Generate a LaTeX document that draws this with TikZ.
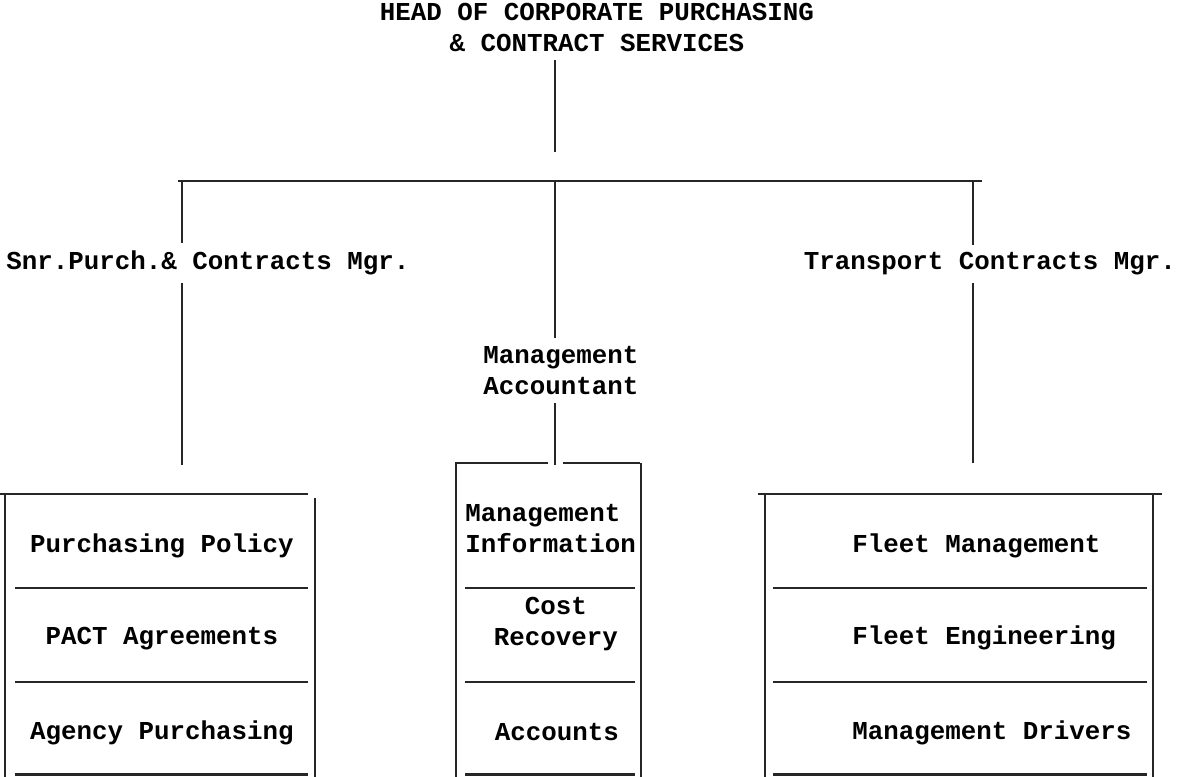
\documentclass[tikz,border=0pt]{standalone}
\usepackage{fontspec}
\setmonofont{Liberation Mono}
\tikzstyle{unit}=[font=\ttfamily\bfseries\fontsize{14.7}{18.2}\selectfont,inner sep=0pt]
\tikzstyle{post}=[unit,inner ysep=0.15cm]
\tikzstyle{rule}=[draw=black!85,line width=1.4pt]

\begin{document}
\begin{tikzpicture}
                  \useasboundingbox (0,0) rectangle (23.6,15.54);

                  \node (head) at (11.94,14.5) [unit,align=center,anchor=base] {HEAD OF CORPORATE PURCHASING\\\& CONTRACT SERVICES};

                  \node (snr) at (4.16,10.14) [post,anchor=base] {Snr.Purch.\& Contracts Mgr.};
                  \node (acct) at (11.22,7.64) [post,align=center,anchor=base] {Management\\Accountant};
                  \node (transport) at (19.8,10.14) [post,anchor=base] {Transport Contracts Mgr.};

                  \coordinate (stem) at (11.1,12.5);
                  \coordinate (jl) at (3.64,11.92);
                  \coordinate (jc) at (11.1,11.92);
                  \coordinate (jr) at (19.46,11.92);
                  \coordinate (lend) at (3.64,6.24);
                  \coordinate (cend) at (11.1,6.24);
                  \coordinate (rend) at (19.46,6.28);

                  \draw [rule] (stem |- 0,14.34) -- (stem);
                  \draw [rule] (3.56,11.92) -- (19.64,11.92);
                  \draw [rule] (jl) -- (jl |- snr.north);
                  \draw [rule] (jl |- snr.south) -- (lend);
                  \draw [rule] (jc) -- (jc |- acct.north);
                  \draw [rule] (jc |- acct.south) -- (cend);
                  \draw [rule] (jr) -- (jr |- transport.north);
                  \draw [rule] (jr |- transport.south) -- (rend);

                  % purchasing
                  \draw [rule] (0,5.66) -- (6.16,5.66);
                  \draw [rule] (0.1,5.66) -- (0.1,0);
                  \draw [rule] (6.3,5.58) -- (6.3,0);
                  \foreach \y in {3.78,1.9,0.05}
                    \draw [rule] (0.3,\y) -- (6.16,\y);
                  \node (policy) at (3.24,4.48) [unit,anchor=base] {Purchasing Policy};
                  \node (pact) at (3.24,2.64) [unit,anchor=base] {PACT Agreements};
                  \node (agency) at (3.24,0.74) [unit,anchor=base] {Agency Purchasing};

                  % accounts
                  \draw [rule] (9.1,6.28) -- (10.96,6.28);
                  \draw [rule] (11.26,6.28) -- (12.8,6.28);
                  \draw [rule] (9.12,6.28) -- (9.12,0);
                  \draw [rule] (12.82,6.28) -- (12.82,0);
                  \foreach \y in {3.78,1.9,0.05}
                    \draw [rule] (9.3,\y) -- (12.7,\y);
                  \node (mis) at (9.3,4.48) [unit,align=left,anchor=base west] {Management\\Information};
                  \node (recovery) at (11.12,2.62) [unit,align=center,anchor=base] {Cost\\Recovery};
                  \node (accounts) at (11.14,0.72) [unit,anchor=base] {Accounts};

                  % transport
                  \draw [rule] (15.16,5.66) -- (23.24,5.66);
                  \draw [rule] (15.3,5.66) -- (15.3,0);
                  \draw [rule] (23.06,5.66) -- (23.06,0);
                  \foreach \y in {3.78,1.9,0.05}
                    \draw [rule] (15.46,\y) -- (22.94,\y);
                  \node (fleetmgt) at (17.04,4.48) [unit,anchor=base west] {Fleet Management};
                  \node (fleeteng) at (17.04,2.64) [unit,anchor=base west] {Fleet Engineering};
                  \node (drivers) at (17.04,0.74) [unit,anchor=base west] {Management Drivers};
\end{tikzpicture}
\end{document}
